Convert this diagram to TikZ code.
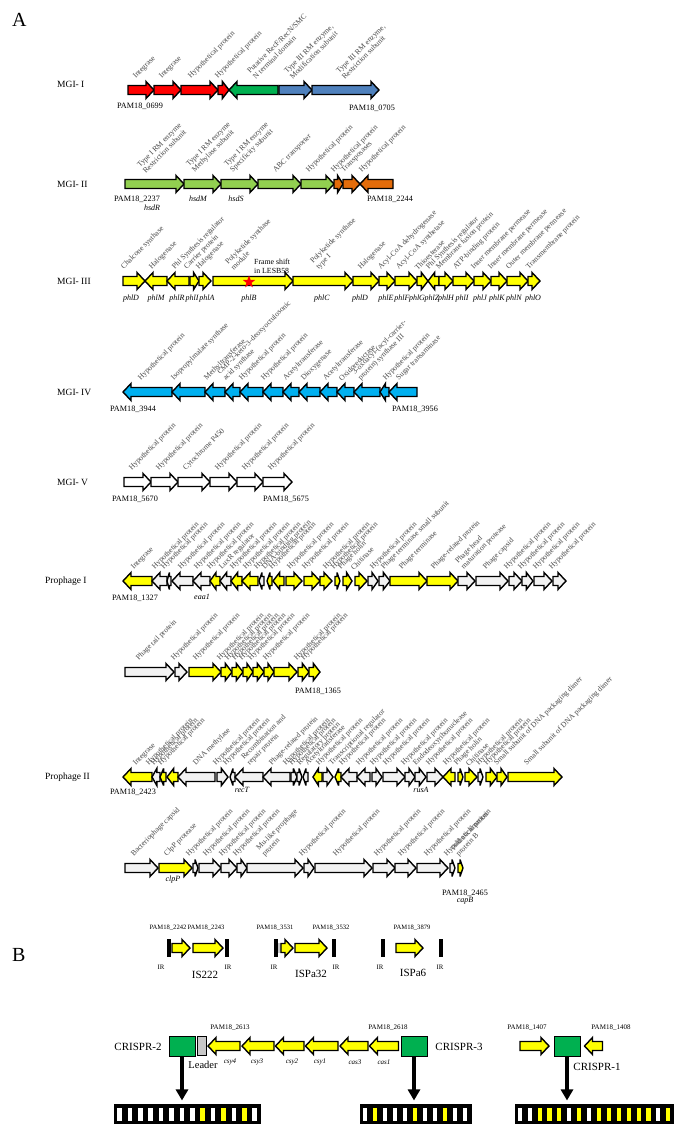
\documentclass[tikz,border=0pt]{standalone}
\usepackage{fontspec}
\setmainfont{Liberation Serif}
\usetikzlibrary{shapes.geometric,arrows.meta}
\definecolor{cRed}{RGB}{255,0,0}
\definecolor{cGreen}{RGB}{0,176,80}
\definecolor{cSteel}{RGB}{79,129,189}
\definecolor{cLGreen}{RGB}{146,208,80}
\definecolor{cOrange}{RGB}{228,108,10}
\definecolor{cYel}{RGB}{255,255,0}
\definecolor{cCyan}{RGB}{0,176,240}
\definecolor{cGrey}{RGB}{242,242,242}
\definecolor{cLeader}{RGB}{200,200,200}
\tikzset{
  genebox/.style={draw=black,line width=1.4pt,line join=miter,miter limit=4},
  lbl/.style={rotate=45,anchor=south west,inner sep=0.4pt,font=\fontsize{7.6}{8.2}\selectfont,align=left,text=black!72},
  pam/.style={inner sep=0pt,font=\fontsize{8.2}{9}\selectfont},
  pamb/.style={inner sep=0pt,font=\fontsize{6.6}{7}\selectfont},
  gname/.style={inner sep=0pt,font=\fontsize{8}{9}\selectfont\itshape},
  rowlbl/.style={anchor=west,inner sep=0pt,font=\fontsize{9.5}{11}\selectfont},
  panel/.style={anchor=west,inner sep=0pt,font=\fontsize{20}{22}\selectfont},
  bigl/.style={inner sep=0pt,font=\fontsize{11}{12}\selectfont},
  irl/.style={inner sep=0pt,font=\fontsize{6.8}{7}\selectfont},
  crbox/.style={draw=black,line width=0.9pt,fill=cGreen,minimum width=26pt,minimum height=20pt,inner sep=0pt},
  downarrow/.style={line width=3.6pt,-{Triangle[length=11pt,width=12pt]}},
}
% \Gn[labelx]{fill}{tail x}{head x}{y}{label}
\newcommand{\Gn}[6][]{%
  \pgfmathsetmacro\gl{(#4)-(#3)}%
  \pgfmathsetmacro\ga{abs(\gl)}%
  \pgfmathsetmacro\hl{\ga<12 ? 0.6*\gl : (\gl>0 ? 8 : -8)}%
  \draw[genebox,fill=#2] (#3,#5-4.5) -- ({#4-\hl},#5-4.5) -- ({#4-\hl},#5-8.5) -- (#4,#5) -- ({#4-\hl},#5+8.5) -- ({#4-\hl},#5+4.5) -- (#3,#5+4.5) -- cycle;
  \def\tmparg{#1}%
  \ifx\tmparg\empty\pgfmathsetmacro\lx{min(#3,#4)+min(9,0.4*\ga)}\else\def\lx{#1}\fi
  \node[lbl] at (\lx,#5-9.5) {#6};
}
\newcommand{\Hyp}{Hypothetical protein}
% repeat-spacer array: x0, pitch, list of spacer colours
\newcommand{\crbar}[3]{%
  \foreach \c [count=\i] in {#3} { \xdef\nc{\i} }%
  \fill[black] (#1,1104) rectangle ({#1+\nc*#2+1.5},1124);
  \foreach \c [count=\i] in {#3} { \fill[\c] ({#1+(\i-1)*#2+3.2},1107.5) rectangle ++({#2-5.8},13); }%
}
\begin{document}
\begin{tikzpicture}[x=1pt,y=-1pt]
\useasboundingbox (0,0) rectangle (685,1146);
\fill[white] (0,0) rectangle (685,1146);
\node[panel] at (12,20) {A};
% ---------------- MGI-I
\node[rowlbl] at (57,84) {MGI- I};
\Gn{cRed}{128}{154}{90}{Integrase}
\Gn{cRed}{154}{181}{90}{Integrase}
\Gn[192]{cRed}{181}{218}{90}{\Hyp}
\Gn[219]{cRed}{218}{229}{90}{\Hyp}
\Gn[256]{cGreen}{278}{229}{90}{Putative RecF/RecN/SMC\\N terminal domain}
\Gn[293]{cSteel}{279}{312}{90}{Type III RM enzyme,\\Modification subunit}
\Gn[345]{cSteel}{312}{379}{90}{Type III RM enzyme,\\Restriction subunit}
\node[pam] at (140,106) {PAM18\_0699};
\node[pam] at (372,108) {PAM18\_0705};
% ---------------- MGI-II
\node[rowlbl] at (57,184) {MGI- II};
\Gn[146]{cLGreen}{125}{184}{184}{Type I RM enzyme\\Restriction subunit}
\Gn[196]{cLGreen}{184}{221}{184}{Type I RM enzyme\\Methylase subunit}
\Gn[234]{cLGreen}{221}{258}{184}{Type I RM enzyme\\Specificity subunit}
\Gn[277]{cLGreen}{258}{301}{184}{ABC transporter}
\Gn[310]{cLGreen}{301}{334}{184}{\Hyp}
\Gn[335]{cOrange}{334}{343}{184}{\Hyp}
\Gn[345]{cOrange}{343}{360}{184}{Transposases}
\Gn[363]{cOrange}{393}{360}{184}{\Hyp}
\node[pam] at (137,199) {PAM18\_2237};
\node[gname] at (152,208) {hsdR};
\node[gname] at (198,199) {hsdM};
\node[gname] at (236,199) {hsdS};
\node[pam] at (390,199) {PAM18\_2244};
% ---------------- MGI-III
\node[rowlbl] at (57,281) {MGI- III};
\Gn[125]{cYel}{123}{145}{281}{Chalcone synthase}
\Gn[153]{cYel}{167}{145}{281}{Halogenase}
\Gn[176]{cYel}{189}{167}{281}{Phl Synthesis regulator}
\Gn[188]{cYel}{190}{199}{281}{Carrier protein}
\Gn[200]{cYel}{199}{211}{281}{Halogenase}
\Gn[234]{cYel}{213}{293}{281}{Polyketide synthase\\module}
\Gn[320]{cYel}{293}{353}{281}{Polyketide synthase\\type I}
\Gn[362]{cYel}{353}{379}{281}{Halogenase}
\Gn[382]{cYel}{379}{395}{281}{Acyl-CoA dehydrogenase}
\Gn[400]{cYel}{395}{417}{281}{Acyl-CoA synthetase}
\Gn[418]{cYel}{417}{428}{281}{Thioesterase}
\Gn[430]{cYel}{439}{428}{281}{Phl Synthesis regulator}
\Gn[440]{cYel}{439}{453}{281}{Membrane fusion protein}
\Gn[457]{cYel}{453}{474}{281}{ATP-binding protein}
\Gn[475]{cYel}{474}{491}{281}{Inner membrane permease}
\Gn[492]{cYel}{491}{507}{281}{Inner membrane permease}
\Gn[510]{cYel}{507}{528}{281}{Outer membrane permease}
\Gn[530]{cYel}{528}{540}{281}{Transmembrane protein}
\node[star,star points=5,star point ratio=2.4,minimum size=13pt,inner sep=0pt,fill=red] at (249,282) {};
\node[anchor=north west,inner sep=0pt,align=left,font=\fontsize{7.8}{9}\selectfont] at (254,259) {Frame shift\\in LESB58};
\foreach \n/\x in {phlD/131,phlM/156,phlR/177,phlI/192,phlA/207,phlB/249,phlC/322,phlD/360,phlE/386,phlF/402,phlG/417,phlZ/432,phlH/446,phlI/462,phlJ/480,phlK/497,phlN/514,phlO/533}
  \node[gname] at (\x,299) {\n};
% ---------------- MGI-IV
\node[rowlbl] at (57,392) {MGI- IV};
\Gn[142]{cCyan}{172}{123}{392}{\Hyp}
\Gn[175]{cCyan}{205}{172}{392}{Isopropylmalate synthase}
\Gn[208]{cCyan}{225}{205}{392}{Methyltransferase}
\Gn[227]{cCyan}{240}{225}{392}{CMP-2-keto-3-deoxyoctulosonic\\acid synthase}
\Gn[243]{cCyan}{263}{240}{392}{\Hyp}
\Gn[265]{cCyan}{283}{263}{392}{\Hyp}
\Gn[287]{cCyan}{299}{283}{392}{Acetyltransferase}
\Gn[305]{cCyan}{320}{299}{392}{Dioxygenase}
\Gn[327]{cCyan}{337}{320}{392}{Acetyltransferase}
\Gn[342]{cCyan}{354}{337}{392}{Oxidoreductase}
\Gn[362]{cCyan}{380}{354}{392}{3-oxoacyl-(acyl-carrier-\\protein) synthase III}
\Gn[387]{cCyan}{389}{380}{392}{\Hyp}
\Gn[400]{cCyan}{417}{389}{392}{Sugar transaminase}
\node[pam] at (133,409) {PAM18\_3944};
\node[pam] at (415,409) {PAM18\_3956};
% ---------------- MGI-V
\node[rowlbl] at (57,482) {MGI- V};
\Gn{white}{124}{151}{482}{\Hyp}
\Gn{white}{151}{178}{482}{\Hyp}
\Gn{white}{178}{210}{482}{Cytochrome P450}
\Gn{white}{210}{237}{482}{\Hyp}
\Gn{white}{237}{263}{482}{\Hyp}
\Gn{white}{263}{292}{482}{\Hyp}
\node[pam] at (135,499) {PAM18\_5670};
\node[pam] at (286,499) {PAM18\_5675};
% ---------------- Prophage I
\node[rowlbl] at (45,581) {Prophage I};
\Gn[135]{cYel}{152}{123}{581}{Integrase}
\Gn[156]{cGrey}{167}{152}{581}{\Hyp}
\Gn[165]{cGrey}{171}{167}{581}{\Hyp}
\Gn[182]{cGrey}{193}{172}{581}{\Hyp}
\Gn[198]{cGrey}{210}{193}{581}{\Hyp}
\Gn[211]{cYel}{220}{210}{581}{\Hyp}
\Gn[223]{cGrey}{231}{220}{581}{LuxR regulator}
\Gn[234]{cYel}{242}{231}{581}{\Hyp}
\Gn[247]{cYel}{258}{242}{581}{\Hyp}
\Gn[258]{cGrey}{264}{259}{581}{\Hyp}
\Gn[266]{cYel}{272}{267}{581}{DNA-binding protein}
\Gn[273]{cYel}{284}{273}{581}{\Hyp}
\Gn[291]{cYel}{286}{302}{581}{\Hyp}
\Gn[306]{cYel}{304}{320}{581}{\Hyp}
\Gn[327]{cYel}{320}{332}{581}{\Hyp}
\Gn[335]{cYel}{335}{340}{581}{\Hyp}
\Gn[342]{cYel}{343}{352}{581}{Phage holin}
\Gn[354]{cYel}{355}{367}{581}{Chitinase}
\Gn[374]{cGrey}{368}{378}{581}{\Hyp}
\Gn[385]{cGrey}{379}{390}{581}{Phage terminase small subunit}
\Gn[403]{cYel}{390}{427}{581}{Phage terminase}
\Gn[435]{cYel}{427}{458}{581}{Phage-related protein}
\Gn[465]{cGrey}{458}{475}{581}{Phage head\\maturation protease}
\Gn[487]{cGrey}{476}{508}{581}{Phage capsid}
\Gn[508]{cGrey}{509}{522}{581}{\Hyp}
\Gn[522]{cGrey}{522}{533}{581}{\Hyp}
\Gn[537]{cGrey}{534}{552}{581}{\Hyp}
\Gn[553]{cGrey}{553}{566}{581}{\Hyp}
\node[pam] at (135,598) {PAM18\_1327};
\node[gname] at (202,597) {eaa1};
% row 2
\Gn[140]{cGrey}{125}{174}{672}{Phage tail protein}
\Gn[175]{cGrey}{175}{187}{672}{\Hyp}
\Gn[197]{cYel}{189}{221}{672}{\Hyp}
\Gn[221]{cYel}{221}{232}{672}{\Hyp}
\Gn[229]{cYel}{232}{243}{672}{\Hyp}
\Gn[236]{cYel}{243}{253}{672}{\Hyp}
\Gn[243]{cYel}{253}{264}{672}{\Hyp}
\Gn[252]{cYel}{264}{274}{672}{\Hyp}
\Gn[267]{cYel}{274}{297}{672}{\Hyp}
\Gn[298]{cYel}{298}{309}{672}{\Hyp}
\Gn[305]{cYel}{309}{320}{672}{\Hyp}
\node[pam] at (318,691) {PAM18\_1365};
% ---------------- Prophage II
\node[rowlbl] at (45,777) {Prophage II};
\Gn[137]{cYel}{152}{123}{777}{Integrase}
\Gn[150]{cGrey}{160}{152}{777}{\Hyp}
\Gn[155]{cYel}{166}{160}{777}{\Hyp}
\Gn[162]{cYel}{178}{167}{777}{\Hyp}
\Gn[197]{cGrey}{215}{178}{777}{DNA methylase}
\Gn[217]{cGrey}{217}{228}{777}{\Hyp}
\Gn[227]{cGrey}{235}{230}{777}{\Hyp}
\Gn[251]{cGrey}{263}{235}{777}{Recombination and\\repair protein}
\Gn[273]{cGrey}{290}{263}{777}{Phage-related protein}
\Gn[287]{cGrey}{291}{297}{777}{\Hyp}
\Gn[293]{cGrey}{297}{302}{777}{\Hyp}
\Gn[301]{cGrey}{308}{303}{777}{Regulatory protein}
\Gn[309]{cYel}{322}{313}{777}{Acetyltransferase}
\Gn[320]{cGrey}{323}{333}{777}{\Hyp}
\Gn[333]{cYel}{341}{335}{777}{Transcriptional regulator}
\Gn[343]{cGrey}{357}{341}{777}{\Hyp}
\Gn[360]{cGrey}{370}{357}{777}{\Hyp}
\Gn[374]{cGrey}{372}{382}{777}{\Hyp}
\Gn[387]{cGrey}{383}{405}{777}{\Hyp}
\Gn[405]{cGrey}{405}{415}{777}{\Hyp}
\Gn[417]{cGrey}{415}{426}{777}{Endodeoxyribonuclease}
\Gn[430]{cGrey}{427}{443}{777}{\Hyp}
\Gn[447]{cYel}{455}{443}{777}{\Hyp}
\Gn[458]{cYel}{458}{463}{777}{Phage holin}
\Gn[469]{cYel}{465}{477}{777}{Chitinase}
\Gn[480]{cGrey}{478}{483}{777}{\Hyp}
\Gn[488]{cYel}{486}{497}{777}{\Hyp}
\Gn[498]{cYel}{497}{507}{777}{Small subunit of DNA packaging dimer}
\Gn[528]{cYel}{508}{562}{777}{Small subunit of DNA packaging dimer}
\node[pam] at (133,792) {PAM18\_2423};
\node[gname] at (242,790) {recT};
\node[gname] at (421,790) {rusA};
% row 2
\Gn[135]{cGrey}{125}{158}{868}{Bacteriophage capsid}
\Gn[168]{cYel}{159}{192}{868}{ClpP protease}
\Gn[190]{cGrey}{193}{198}{868}{\Hyp}
\Gn[207]{cGrey}{199}{221}{868}{\Hyp}
\Gn[223]{cGrey}{221}{237}{868}{\Hyp}
\Gn[237]{cGrey}{237}{247}{868}{\Hyp}
\Gn[266]{cGrey}{247}{303}{868}{Mu-like prophage\\protein}
\Gn[303]{cGrey}{304}{314}{868}{\Hyp}
\Gn[337]{cGrey}{315}{372}{868}{\Hyp}
\Gn[378]{cGrey}{373}{395}{868}{\Hyp}
\Gn[402]{cGrey}{395}{416}{868}{\Hyp}
\Gn[428]{cGrey}{417}{448}{868}{\Hyp}
\Gn[448]{cGrey}{450}{455}{868}{\Hyp}
\Gn[460]{cYel}{458}{463}{868}{cold acclimation\\protein B}
\node[gname] at (173,880) {clpP};
\node[pam] at (465,893) {PAM18\_2465};
\node[gname] at (465,901) {capB};
% ================= B
\node[panel] at (12,955) {B};
\foreach \t/\x in {PAM18\_2242/168,PAM18\_2243/206,PAM18\_3531/275,PAM18\_3532/331,PAM18\_3879/412}
  \node[pamb] at (\x,928) {\t};
\foreach \x/\tx in {169/161,227/228,276/274,334/336,383/380,441/440}{
  \fill[black] (\x-1.9,939) rectangle (\x+1.9,957);
  \node[irl] at (\tx,967) {IR};
}
\fill[cLeader] (277.5,943) rectangle (280.5,953);
\Gn{cYel}{172}{190}{948}{}
\Gn{cYel}{193}{223}{948}{}
\Gn{cYel}{281}{293}{948}{}
\Gn{cYel}{295}{327}{948}{}
\Gn{cYel}{396}{423}{948}{}
\node[bigl] at (205,975) {IS222};
\node[bigl] at (311,974) {ISPa32};
\node[bigl] at (413,973) {ISPa6};
% CRISPR loci
\node[pamb,font=\fontsize{7}{8}\selectfont] at (230,1028) {PAM18\_2613};
\node[pamb,font=\fontsize{7}{8}\selectfont] at (388,1028) {PAM18\_2618};
\node[pamb,font=\fontsize{7}{8}\selectfont] at (527,1028) {PAM18\_1407};
\node[pamb,font=\fontsize{7}{8}\selectfont] at (611,1028) {PAM18\_1408};
\node[bigl] at (138,1047) {CRISPR-2};
\node[crbox] (c2) at (182,1046) {};
\node[draw=black,line width=0.7pt,fill=cLeader,minimum width=8.5pt,minimum height=19pt,inner sep=0pt] (ld) at (202,1046) {};
\node[inner sep=0pt,font=\fontsize{10.5}{11}\selectfont] at (203,1065) {Leader};
\Gn{cYel}{240}{208}{1046}{}
\Gn{cYel}{274}{242}{1046}{}
\Gn{cYel}{304}{275.5}{1046}{}
\Gn{cYel}{338}{305.5}{1046}{}
\Gn{cYel}{368}{340}{1046}{}
\Gn{cYel}{398.5}{369.5}{1046}{}
\foreach \n/\x in {csy4/230,csy3/257,csy2/292,csy1/320,cas3/355,cas1/384}
  \node[gname,font=\fontsize{7}{8}\selectfont\itshape] at (\x,1062) {\n};
\node[crbox] (c3) at (414,1046) {};
\node[bigl] at (459,1047) {CRISPR-3};
\Gn{cYel}{520}{549}{1046}{}
\node[crbox] (c1) at (567,1046) {};
\Gn{cYel}{602.5}{584.5}{1046}{}
\node[bigl] at (597,1067) {CRISPR-1};
% arrows down
\foreach \c in {c2,c3,c1}{
  \draw[downarrow] (\c.south) -- ++(0,44);
}
% repeat-spacer arrays
\crbar{114}{10.4}{white,white,white,white,white,white,white,white,cYel,white,cYel,white,cYel,white}
\crbar{360}{10}{white,cYel,white,white,white,cYel,white,white,cYel,white,white}
\crbar{514.5}{9.9}{white,white,cYel,cYel,cYel,white,cYel,white,cYel,cYel,cYel,cYel,cYel,cYel,white,cYel}
\end{tikzpicture}
\end{document}
